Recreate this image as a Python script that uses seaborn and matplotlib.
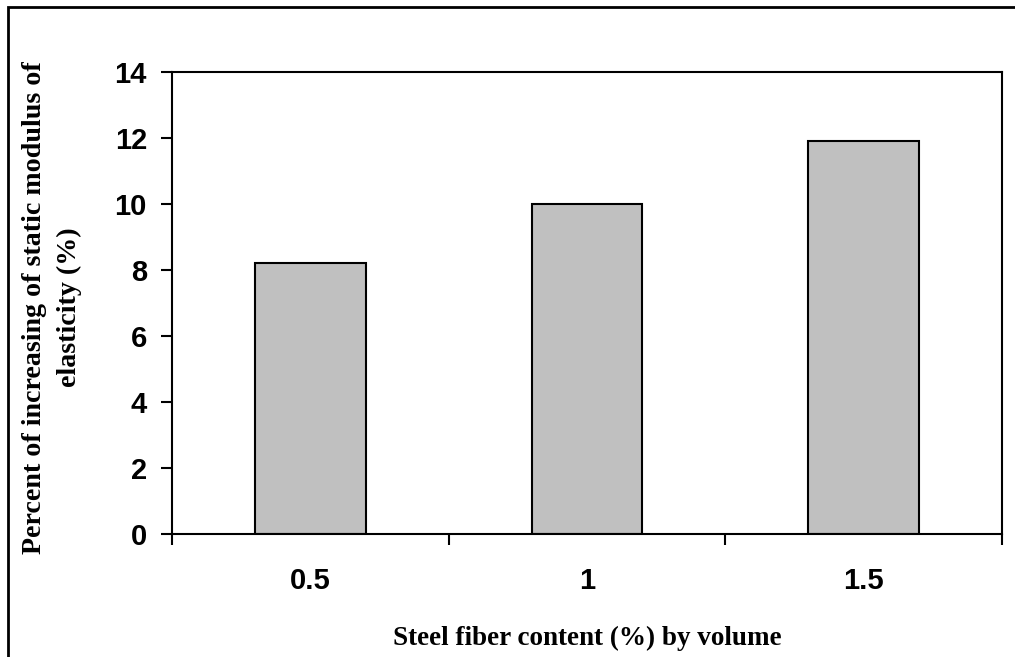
import matplotlib
matplotlib.use("Agg")
import matplotlib.pyplot as plt
import matplotlib.patches as patches
import pandas as pd
import seaborn as sns

# data
fiber_content = ["0.5", "1", "1.5"]
modulus_increase = [8.2, 10.0, 11.9]

df = pd.DataFrame({"fiber": fiber_content, "increase": modulus_increase})

sns.set_style("white")
plt.rcParams["font.family"] = ["Liberation Sans", "DejaVu Sans"]
plt.rcParams["text.color"] = "black"
plt.rcParams["axes.labelcolor"] = "black"
plt.rcParams["xtick.color"] = "black"
plt.rcParams["ytick.color"] = "black"

fig = plt.figure(figsize=(10.15, 6.57), dpi=100)
ax = fig.add_axes([172 / 1015, 1 - 534 / 657, 830 / 1015, 462 / 657])

sns.barplot(data=df, x="fiber", y="increase", ax=ax, width=0.4,
            color="#C0C0C0", saturation=1, edgecolor="black", linewidth=1.5)

ax.set_xlim(-0.5, 2.5)
ax.set_ylim(0, 14)
ax.set_yticks(range(0, 15, 2))

# Excel-style: ticks between categories, labels at the bars
ax.set_xticks([-0.5, 0.5, 1.5, 2.5])
ax.set_xticklabels([])
ax.set_xticks([0, 1, 2], minor=True)
ax.set_xticklabels(fiber_content, minor=True)
ax.tick_params(axis="x", which="major", direction="out", length=8, width=1.5,
               bottom=True)
ax.tick_params(axis="x", which="minor", length=0, pad=24, labelsize=21)
ax.tick_params(axis="y", direction="out", length=8, width=1.5, left=True,
               pad=10, labelsize=21)
for lab in ax.get_xticklabels(minor=True) + ax.get_yticklabels():
    lab.set_fontweight("bold")

for sp in ax.spines.values():
    sp.set_visible(True)
    sp.set_color("black")
    sp.set_linewidth(1.5)

ax.set_xlabel("Steel fiber content (%) by volume", fontsize=19.5,
              fontweight="bold", family="Liberation Serif")
ax.xaxis.set_label_coords(0.5, -0.198)
ax.set_ylabel("Percent of increasing of static modulus of\nelasticity (%)",
              fontsize=20.2, fontweight="bold", family="Liberation Serif",
              linespacing=1.5, va="center")
ax.yaxis.set_label_coords(-0.145, 0.49)

# outer chart border (right and bottom edges are cut off)
fig.add_artist(patches.Rectangle((8 / 1015, -0.1), 1.2, 1.1 - 7 / 657,
                                 transform=fig.transFigure, fill=False,
                                 edgecolor="black", linewidth=2, clip_on=False))

fig.savefig("out.png", dpi=100)
